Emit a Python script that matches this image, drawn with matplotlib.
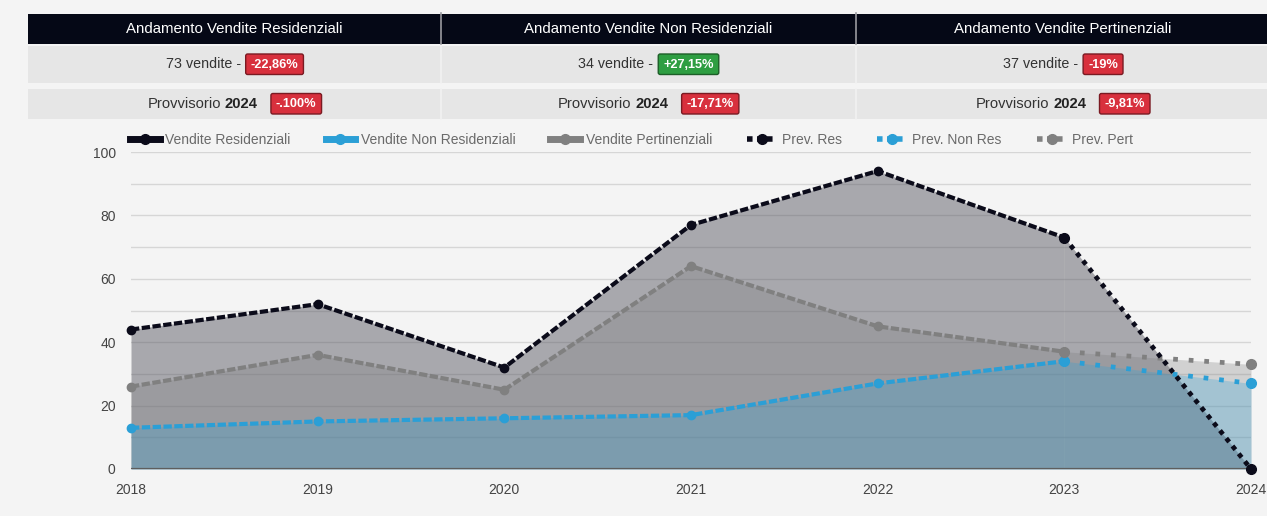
import matplotlib
matplotlib.use('Agg')
import matplotlib.pyplot as plt
from matplotlib.patches import Rectangle, FancyBboxPatch
from matplotlib.lines import Line2D

# ---------------- data ----------------
years = [2018, 2019, 2020, 2021, 2022, 2023, 2024]
hist_years = years[:6]
res = [44, 52, 32, 77, 94, 73]
non_res = [13, 15, 16, 17, 27, 34]
pert = [26, 36, 25, 64, 45, 37]
prev_years = [2023, 2024]
prev_res = [73, 0]
prev_non_res = [34, 27]
prev_pert = [37, 33]

header_titles = ["Andamento Vendite Residenziali",
                 "Andamento Vendite Non Residenziali",
                 "Andamento Vendite Pertinenziali"]
summary_texts = ["73 vendite -", "34 vendite -", "37 vendite -"]
summary_badges = ["-22,86%", "+27,15%", "-19%"]
summary_up = [False, True, False]
prov_word = "Provvisorio"
prov_year = "2024"
prov_badges = ["-.100%", "-17,71%", "-9,81%"]
legend_labels = ["Vendite Residenziali", "Vendite Non Residenziali",
                 "Vendite Pertinenziali", "Prev. Res", "Prev. Non Res", "Prev. Pert"]

# ---------------- style ----------------
plt.rcParams['font.family'] = ['Liberation Sans', 'DejaVu Sans']
BG = '#f4f4f4'
C_RES = '#0b0b1a'
C_NON = '#2b9fd6'
C_PERT = '#808080'
W, H = 1267, 516

fig = plt.figure(figsize=(W / 100, H / 100), dpi=100, facecolor=BG)

# ---------------- chart ----------------
ax = fig.add_axes([131 / W, (H - 469) / H, 1120 / W, 317 / H])
ax.set_facecolor(BG)
ax.set_xlim(2018, 2024)
ax.set_ylim(0, 100)

C_RES_FILL = (80 / 255, 80 / 255, 90 / 255)
C_PERT_FILL = (0.5, 0.5, 0.5)
C_NON_FILL = (42 / 255, 160 / 255, 216 / 255)
ax.fill_between(hist_years, res, color=C_RES_FILL, alpha=0.46, lw=0, zorder=1)
ax.fill_between(prev_years, prev_res, color=C_RES_FILL, alpha=0.46, lw=0, zorder=1)
ax.fill_between(hist_years, pert, color=C_PERT_FILL, alpha=0.3, lw=0, zorder=1.1)
ax.fill_between(prev_years, prev_pert, color=C_PERT_FILL, alpha=0.3, lw=0, zorder=1.1)
ax.fill_between(hist_years, non_res, color=C_NON_FILL, alpha=0.27, lw=0, zorder=1.2)
ax.fill_between(prev_years, prev_non_res, color=C_NON_FILL, alpha=0.27, lw=0, zorder=1.2)

ax.axhline(0, color='#5e5e5e', lw=1.6, zorder=2)

# lines
dash = (2.0, 0.6)
ax.plot(hist_years, non_res, color=C_NON, lw=3.0, dashes=dash, marker='o', ms=6,
        clip_on=False, zorder=3)
ax.plot(hist_years, pert, color=C_PERT, lw=3.0, dashes=dash, marker='o', ms=6,
        clip_on=False, zorder=3.1)
ax.plot(hist_years, res, color=C_RES, lw=3.0, dashes=dash, marker='o', ms=6,
        clip_on=False, zorder=3.2)
ax.plot(prev_years, prev_non_res, color=C_NON, lw=3.4, dashes=(1.0, 2.3), marker='o', ms=7,
        clip_on=False, zorder=3.3)
ax.plot(prev_years, prev_pert, color=C_PERT, lw=3.4, dashes=(1.0, 2.3), marker='o', ms=7,
        clip_on=False, zorder=3.4)
ax.plot(prev_years, prev_res, color=C_RES, lw=3.4, dashes=(1.0, 1.1), marker='o', ms=7,
        clip_on=False, zorder=3.5)

ax.set_xticks(years)
ax.set_yticks(range(0, 101, 20))
ax.set_yticks(range(0, 101, 10), minor=True)
ax.grid(axis='y', which='both', color='#d6d6d6', lw=1, zorder=0)
ax.set_axisbelow(True)
ax.tick_params(axis='both', which='both', length=0, colors='#444444', labelsize=10)
ax.tick_params(axis='y', pad=11)
ax.tick_params(axis='x', pad=10)
for s in ax.spines.values():
    s.set_visible(False)

# legend
handles = [
    Line2D([], [], color=C_RES, lw=5, ls='-', marker='o', ms=7),
    Line2D([], [], color=C_NON, lw=5, ls='-', marker='o', ms=7),
    Line2D([], [], color=C_PERT, lw=5, ls='-', marker='o', ms=7),
    Line2D([], [], color=C_RES, lw=4, dashes=(1, 0.8), marker='o', ms=7),
    Line2D([], [], color=C_NON, lw=4, dashes=(1, 0.8), marker='o', ms=7),
    Line2D([], [], color=C_PERT, lw=4, dashes=(1, 0.8), marker='o', ms=7),
]
leg = fig.legend(handles, legend_labels, loc='center left', ncol=6,
                 bbox_to_anchor=(130 / W, 1 - 140 / H), bbox_transform=fig.transFigure,
                 frameon=False, fontsize=10, handlelength=2.15, handletextpad=0.4,
                 columnspacing=2.5, borderpad=0, borderaxespad=0)
for t in leg.get_texts():
    t.set_color('#6a6a6a')

# ---------------- header table ----------------
hax = fig.add_axes([0, 0, 1, 1])
hax.set_xlim(0, W)
hax.set_ylim(H, 0)
hax.axis('off')
hax.patch.set_alpha(0)

edges = [28, 441, 856, 1272]
hax.add_patch(Rectangle((edges[0], 14), edges[-1] - edges[0], 29.5, color='#050816', lw=0))
hax.add_patch(Rectangle((edges[0], 45.5), edges[-1] - edges[0], 37.5, color='#e6e6e6', lw=0))
hax.add_patch(Rectangle((edges[0], 88.5), edges[-1] - edges[0], 30.5, color='#e6e6e6', lw=0))
for e in edges[1:-1]:
    hax.plot([e, e], [13, 43.5], color='#9a9aa0', lw=1.2)
    hax.plot([e, e], [45.5, 83], color='#f2f2f2', lw=1.2)
    hax.plot([e, e], [88.5, 119], color='#f2f2f2', lw=1.2)

renderer = fig.canvas.get_renderer()
BADGE_FS = 9.2


def text_width(t):
    return t.get_window_extent(renderer).width


def badge_width(label):
    tmp = hax.text(0, 0, label, fontsize=BADGE_FS, fontweight='bold')
    w = text_width(tmp) + 10
    tmp.remove()
    return w


def badge(x, cy, label, up):
    fc = '#2e9e42' if up else '#d8303d'
    ec = '#1d5e28' if up else '#7a1a22'
    w = badge_width(label)
    hax.text(x + w / 2, cy + 0.5, label, color='white', fontsize=BADGE_FS, fontweight='bold',
             ha='center', va='center', zorder=3)
    hax.add_patch(FancyBboxPatch((x, cy - 10), w, 20.5,
                                 boxstyle='round,pad=0,rounding_size=2',
                                 fc=fc, ec=ec, lw=1.0, zorder=2))


for i in range(3):
    right = edges[i + 1] if i < 2 else 1270
    cx = (edges[i] + right) / 2
    hax.text(cx, 29, header_titles[i], color='white', fontsize=10.8, ha='center', va='center')

    # row 2
    cy = 64
    t1 = hax.text(0, cy, summary_texts[i], color='#333333', fontsize=10.3, ha='left', va='center')
    bw = badge_width(summary_badges[i])
    w1 = text_width(t1)
    total = w1 + 5 + bw
    x0 = cx - total / 2
    t1.set_x(x0)
    badge(x0 + w1 + 5, cy, summary_badges[i], summary_up[i])

    # row 3
    cy = 103.5
    ta = hax.text(0, cy, prov_word, color='#333333', fontsize=10.6, ha='left', va='center')
    tb = hax.text(0, cy, prov_year, color='#222222', fontsize=10.6, fontweight='bold',
                  ha='left', va='center')
    bw = badge_width(prov_badges[i])
    wa, wb = text_width(ta), text_width(tb)
    total = wa + 4 + wb + 13 + bw
    x0 = cx - total / 2
    ta.set_x(x0)
    tb.set_x(x0 + wa + 4)
    badge(x0 + wa + 4 + wb + 13, cy, prov_badges[i], False)

fig.savefig('out.png', dpi=100, facecolor=BG)
